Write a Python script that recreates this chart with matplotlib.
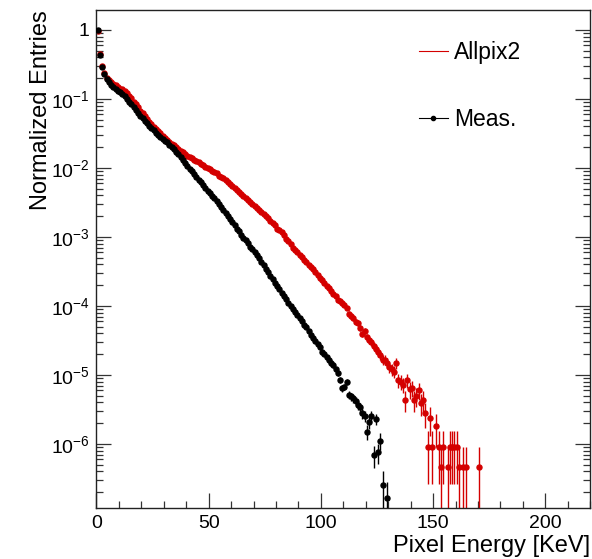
"""
plot.py

Pixel energy spectrum: Allpix2 simulation vs. measurement (log scale).
Writes out.png
"""

import matplotlib
matplotlib.use("Agg")

import matplotlib.pyplot as plt
import numpy as np
from matplotlib.lines import Line2D
from matplotlib.ticker import FuncFormatter, LogLocator, MultipleLocator, NullFormatter

plt.rcParams["font.family"] = ["Liberation Sans", "DejaVu Sans"]
plt.rcParams["mathtext.fontset"] = "custom"
plt.rcParams["mathtext.rm"] = "Liberation Sans"
plt.rcParams["mathtext.it"] = "Liberation Sans:italic"

# ────────────────────────── Data ────────────────────────── #
# 1 keV bins, centre = index + 0.5. Values as log10(entries),
# None = empty bin.
meas_log10 = [
    0.00, -0.36, -0.54, -0.64, -0.71, -0.76, -0.80, -0.83, -0.86, -0.88,
    -0.90, -0.93, -0.96, -1.00, -1.04, -1.08, -1.12, -1.16, -1.20, -1.24,
    -1.28, -1.32, -1.35, -1.39, -1.42, -1.45, -1.49, -1.52, -1.55, -1.58,
    -1.61, -1.63, -1.66, -1.70, -1.73, -1.77, -1.80, -1.84, -1.88, -1.93,
    -1.97, -2.01, -2.05, -2.09, -2.13, -2.17, -2.21, -2.25, -2.29, -2.33,
    -2.37, -2.41, -2.44, -2.48, -2.52, -2.57, -2.61, -2.65, -2.70, -2.74,
    -2.78, -2.83, -2.88, -2.92, -2.97, -3.01, -3.05, -3.09, -3.14, -3.18,
    -3.22, -3.26, -3.31, -3.36, -3.41, -3.46, -3.51, -3.56, -3.61, -3.66,
    -3.71, -3.76, -3.81, -3.86, -3.90, -3.95, -4.00, -4.05, -4.09, -4.13,
    -4.17, -4.22, -4.27, -4.31, -4.36, -4.42, -4.46, -4.51, -4.55, -4.60,
    -4.66, -4.70, -4.74, -4.78, -4.82, -4.86, -4.92, -4.97, -5.07, -5.19,
    -5.17, -5.10, -5.29, -5.31, -5.34, -5.37, -5.44, -5.47, -5.55, -5.60,
    -5.82, -5.68, -5.59, -6.16, -5.64, -6.12, -5.95, -6.59, None, -6.79,
]

allpix_log10 = [
    -0.01, -0.35, -0.52, -0.62, -0.69, -0.73, -0.76, -0.78, -0.80, -0.83,
    -0.85, -0.86, -0.88, -0.91, -0.95, -0.99, -1.04, -1.08, -1.12, -1.17,
    -1.21, -1.25, -1.29, -1.33, -1.37, -1.41, -1.44, -1.47, -1.50, -1.53,
    -1.56, -1.59, -1.62, -1.65, -1.67, -1.70, -1.72, -1.75, -1.77, -1.80,
    -1.82, -1.84, -1.86, -1.88, -1.90, -1.92, -1.94, -1.96, -1.98, -2.00,
    -2.02, -2.04, -2.06, -2.08, -2.11, -2.13, -2.15, -2.18, -2.20, -2.23,
    -2.26, -2.29, -2.32, -2.35, -2.38, -2.41, -2.43, -2.46, -2.49, -2.52,
    -2.55, -2.58, -2.61, -2.64, -2.67, -2.70, -2.73, -2.77, -2.80, -2.83,
    -2.88, -2.90, -2.93, -2.97, -3.03, -3.06, -3.10, -3.16, -3.19, -3.22,
    -3.26, -3.29, -3.33, -3.36, -3.40, -3.44, -3.47, -3.51, -3.55, -3.59,
    -3.63, -3.67, -3.71, -3.74, -3.78, -3.82, -3.86, -3.91, -3.93, -3.96,
    -3.99, -4.03, -4.11, -4.14, -4.18, -4.23, -4.25, -4.32, -4.40, -4.36,
    -4.45, -4.50, -4.52, -4.58, -4.62, -4.67, -4.71, -4.78, -4.78, -4.82,
    -4.88, -4.92, -4.95, -4.83, -5.07, -5.10, -5.14, -5.36, -5.07, -5.21,
    -5.19, -5.36, -5.31, -5.22, -5.41, -5.36, -5.55, -6.04, -5.63, -6.04,
    None, -5.74, -6.04, -6.34, -6.04, None, -6.34, -6.04, -6.04, -6.04,
    -6.04, -6.34, None, -6.34, -6.34, None, None, None, None, None,
    -6.34,
]

# weight of a single entry (sets the Poisson error bars)
meas_unit = 8.3e-8
allpix_unit = 4.6e-7

labels = ["Allpix2", "Meas."]
colors = ["#d40000", "black"]

Y_MIN, Y_MAX = 1.18e-7, 1.95


def to_points(log_vals, unit):
    """Bin centres, values and asymmetric Poisson errors (clipped at the frame)."""
    centres = np.arange(len(log_vals)) + 0.5
    keep = np.array([v is not None for v in log_vals])
    y = 10.0 ** np.array([v for v in log_vals if v is not None])
    x = centres[keep]
    err = np.sqrt(y * unit)
    lo = np.minimum(err, y - Y_MIN * 0.5)
    return x, y, np.vstack([lo, err])


def log_label(val, _pos):
    exp = int(round(np.log10(val)))
    if exp == 0:
        return "1"
    return r"$\mathregular{10^{%d}}$" % exp


# ────────────────────────── Figure ────────────────────────── #
fig = plt.figure(figsize=(5.92, 5.59), dpi=100)
ax = fig.add_axes([0.163, 0.0912, 0.834, 0.891])

xs_a, ys_a, e_a = to_points(allpix_log10, allpix_unit)
xs_m, ys_m, e_m = to_points(meas_log10, meas_unit)

ax.errorbar(xs_a, ys_a, yerr=e_a, fmt="o", ms=3.6, color=colors[0],
            mec=colors[0], elinewidth=1.0, capsize=0, zorder=2)
ax.errorbar(xs_m, ys_m, yerr=e_m, fmt="o", ms=3.6, color=colors[1],
            mec=colors[1], elinewidth=1.0, capsize=0, zorder=3)

ax.set_yscale("log")
ax.set_xlim(0, 220)
ax.set_ylim(Y_MIN, Y_MAX)

ax.xaxis.set_major_locator(MultipleLocator(50))
ax.xaxis.set_minor_locator(MultipleLocator(10))
ax.yaxis.set_major_locator(LogLocator(base=10, numticks=20))
ax.yaxis.set_minor_locator(LogLocator(base=10, subs=np.arange(2, 10), numticks=20))
ax.yaxis.set_major_formatter(FuncFormatter(log_label))
ax.yaxis.set_minor_formatter(NullFormatter())

ax.tick_params(which="both", direction="in", top=False, right=True,
               labelsize=14, width=0.9, color="#333333")
ax.tick_params(which="major", length=10.5, pad=5)
ax.tick_params(which="minor", length=5)
for s in ax.spines.values():
    s.set_linewidth(1.0)
    s.set_color("#222222")

ax.set_xlabel("Pixel Energy [KeV]", fontsize=17, loc="right")
ax.xaxis.set_label_coords(1.0, -0.055)
ax.set_ylabel("Normalized Entries", fontsize=17, loc="top")
ax.yaxis.set_label_coords(-0.09, 1.0)

handles = [
    Line2D([], [], color=colors[0], lw=0.8),
    Line2D([], [], color=colors[1], lw=0.8, marker="o", ms=3),
]
ax.legend(handles, labels, loc="upper left", bbox_to_anchor=(0.653, 0.938),
          frameon=False, fontsize=16.5, handlelength=1.25, handletextpad=0.3,
          labelspacing=1.93, borderpad=0, borderaxespad=0)

fig.savefig("out.png", dpi=100)
